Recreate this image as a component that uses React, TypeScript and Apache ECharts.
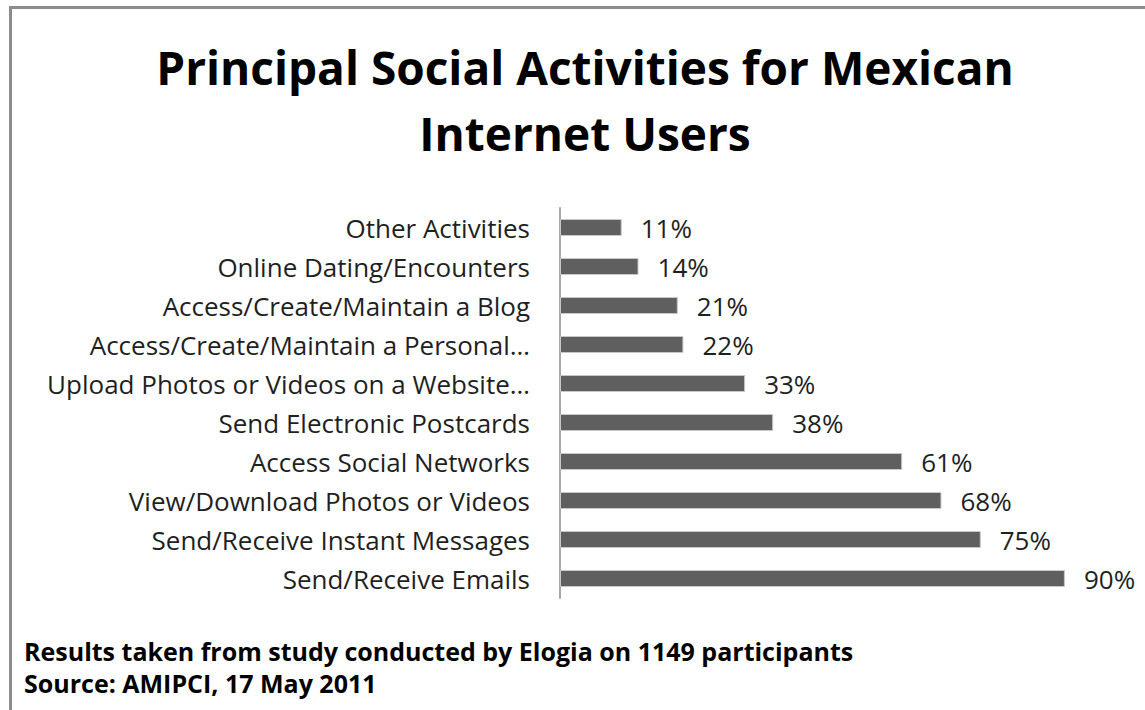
import React, { useEffect, useRef } from "react";
import * as echarts from "echarts";

const titleText = "Principal Social Activities for Mexican\nInternet Users";
const categories = [
  "Other Activities",
  "Online Dating/Encounters",
  "Access/Create/Maintain a Blog",
  "Access/Create/Maintain a Personal…",
  "Upload Photos or Videos on a Website…",
  "Send Electronic Postcards",
  "Access Social Networks",
  "View/Download Photos or Videos",
  "Send/Receive Instant Messages",
  "Send/Receive Emails",
];
const values = [11, 14, 21, 22, 33, 38, 61, 68, 75, 90];
const footnotes = [
  "Results taken from study conducted by Elogia on 1149 participants",
  "Source: AMIPCI, 17 May 2011",
];

const FONT = "'Open Sans', 'Noto Sans', sans-serif";

export default function App() {
  const ref = useRef<HTMLDivElement>(null);
  useEffect(() => {
    document.body.style.margin = "0";
    const chart = echarts.init(ref.current!, null, { renderer: "svg" });
    chart.setOption({
      animation: false,
      backgroundColor: "#ffffff",
      title: {
        text: titleText,
        left: 580,
        top: 29,
        textAlign: "center",
        textStyle: {
          fontFamily: FONT,
          fontWeight: "bold",
          fontSize: 46,
          lineHeight: 66,
          color: "#000000",
        },
      },
      grid: { left: 560, top: 208, width: 561, height: 390, containLabel: false },
      xAxis: {
        type: "value",
        min: 0,
        max: 100,
        show: false,
      },
      yAxis: {
        type: "category",
        data: categories,
        inverse: true,
        axisLine: { show: true, lineStyle: { color: "#a6a6a6", width: 2 } },
        axisTick: { show: false },
        axisLabel: {
          fontFamily: FONT,
          fontSize: 26,
          color: "#1f1f1f",
          margin: 30,
        },
      },
      series: [
        {
          type: "bar",
          data: values,
          barWidth: 17,
          itemStyle: { color: "#5f5f5f", borderColor: "#c8c8c8", borderWidth: 1 },
          label: {
            show: true,
            position: "right",
            distance: 19,
            formatter: "{c}%",
            fontFamily: FONT,
            fontSize: 26,
            color: "#1f1f1f",
          },
        },
      ],
      graphic: [
        {
          type: "rect",
          shape: { x: 10.5, y: 7.5, width: 1200, height: 800 },
          style: { fill: "none", stroke: "#8c8c8c", lineWidth: 3 },
          silent: true,
        },
        {
          type: "text",
          left: 24,
          top: 635,
          style: {
            text: footnotes.join("\n"),
            font: `bold 25px ${FONT}`,
            lineHeight: 32,
            fill: "#000000",
          },
        },
      ],
    });
    return () => chart.dispose();
  }, []);
  return <div ref={ref} style={{ width: 1145, height: 710 }} />;
}
